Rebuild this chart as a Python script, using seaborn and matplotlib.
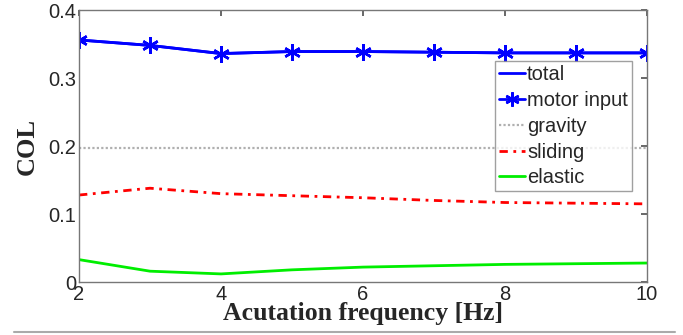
import pandas as pd
import matplotlib
matplotlib.use("Agg")
import matplotlib.pyplot as plt
import seaborn as sns

# data
freq = [2, 3, 4, 5, 6, 7, 8, 9, 10]
total = [0.356, 0.348, 0.336, 0.339, 0.339, 0.338, 0.337, 0.337, 0.337]
motor_input = [0.356, 0.348, 0.336, 0.339, 0.339, 0.338, 0.337, 0.337, 0.337]
gravity = [0.197, 0.197, 0.197, 0.197, 0.197, 0.197, 0.197, 0.197, 0.197]
sliding = [0.128, 0.138, 0.130, 0.127, 0.124, 0.120, 0.117, 0.116, 0.115]
elastic = [0.033, 0.016, 0.012, 0.018, 0.022, 0.024, 0.026, 0.027, 0.028]

df = pd.DataFrame({"freq": freq, "total": total, "motor input": motor_input,
                   "gravity": gravity, "sliding": sliding, "elastic": elastic})

sns.set_theme(style="white")
plt.rcParams["font.family"] = ["Liberation Sans", "DejaVu Sans"]

fig = plt.figure(figsize=(6.83, 3.35), dpi=100)
ax = fig.add_axes([0.1157, 0.158, 0.8316, 0.812])

sns.lineplot(data=df, x="freq", y="total", ax=ax, color="#0000ff", lw=2, label="total")
sns.lineplot(data=df, x="freq", y="motor input", ax=ax, color="#0000ff", lw=2,
             marker=(6, 2, 0), markersize=12, markeredgewidth=1.8,
             markeredgecolor="#0000ff", label="motor input")
sns.lineplot(data=df, x="freq", y="gravity", ax=ax, color="#b0b0b0", lw=1.6,
             linestyle=(0, (1, 1)), label="gravity")
sns.lineplot(data=df, x="freq", y="sliding", ax=ax, color="#ff0000", lw=2,
             linestyle=(0, (3, 2, 1, 2)), label="sliding")
sns.lineplot(data=df, x="freq", y="elastic", ax=ax, color="#00ee00", lw=2, label="elastic")

ax.set_xlim(2, 10)
ax.set_ylim(0, 0.4)
ax.set_xticks([2, 4, 6, 8, 10])
ax.set_yticks([0, 0.1, 0.2, 0.3, 0.4])
ax.set_yticklabels(["0", "0.1", "0.2", "0.3", "0.4"])
ax.tick_params(direction="in", length=4, top=True, right=True, labelsize=14.5,
               color="#555555", pad=2)
for s in ax.spines.values():
    s.set_color("#777777")
    s.set_linewidth(1)

ax.set_xlabel("Acutation frequency [Hz]", family="Liberation Serif",
              fontweight="bold", fontsize=18.5, labelpad=-1)
ax.set_ylabel("COL", family="Liberation Serif", fontweight="bold",
              fontsize=19, labelpad=7)

leg = ax.legend(loc="upper right", bbox_to_anchor=(0.9736, 0.8125), fontsize=14.5,
                frameon=True, fancybox=False, handlelength=1.3, handletextpad=0.1,
                borderpad=0.2, labelspacing=0.34, borderaxespad=0,
                markerscale=0.85)
leg.get_frame().set_edgecolor("#888888")
leg.get_frame().set_linewidth(1)

# thin grey rule under the figure as in the source image
fig.add_artist(plt.Line2D([0.02, 0.988], [0.008, 0.008], color="#aaaaaa", lw=1.5))

fig.savefig("out.png", dpi=100, facecolor="white")
